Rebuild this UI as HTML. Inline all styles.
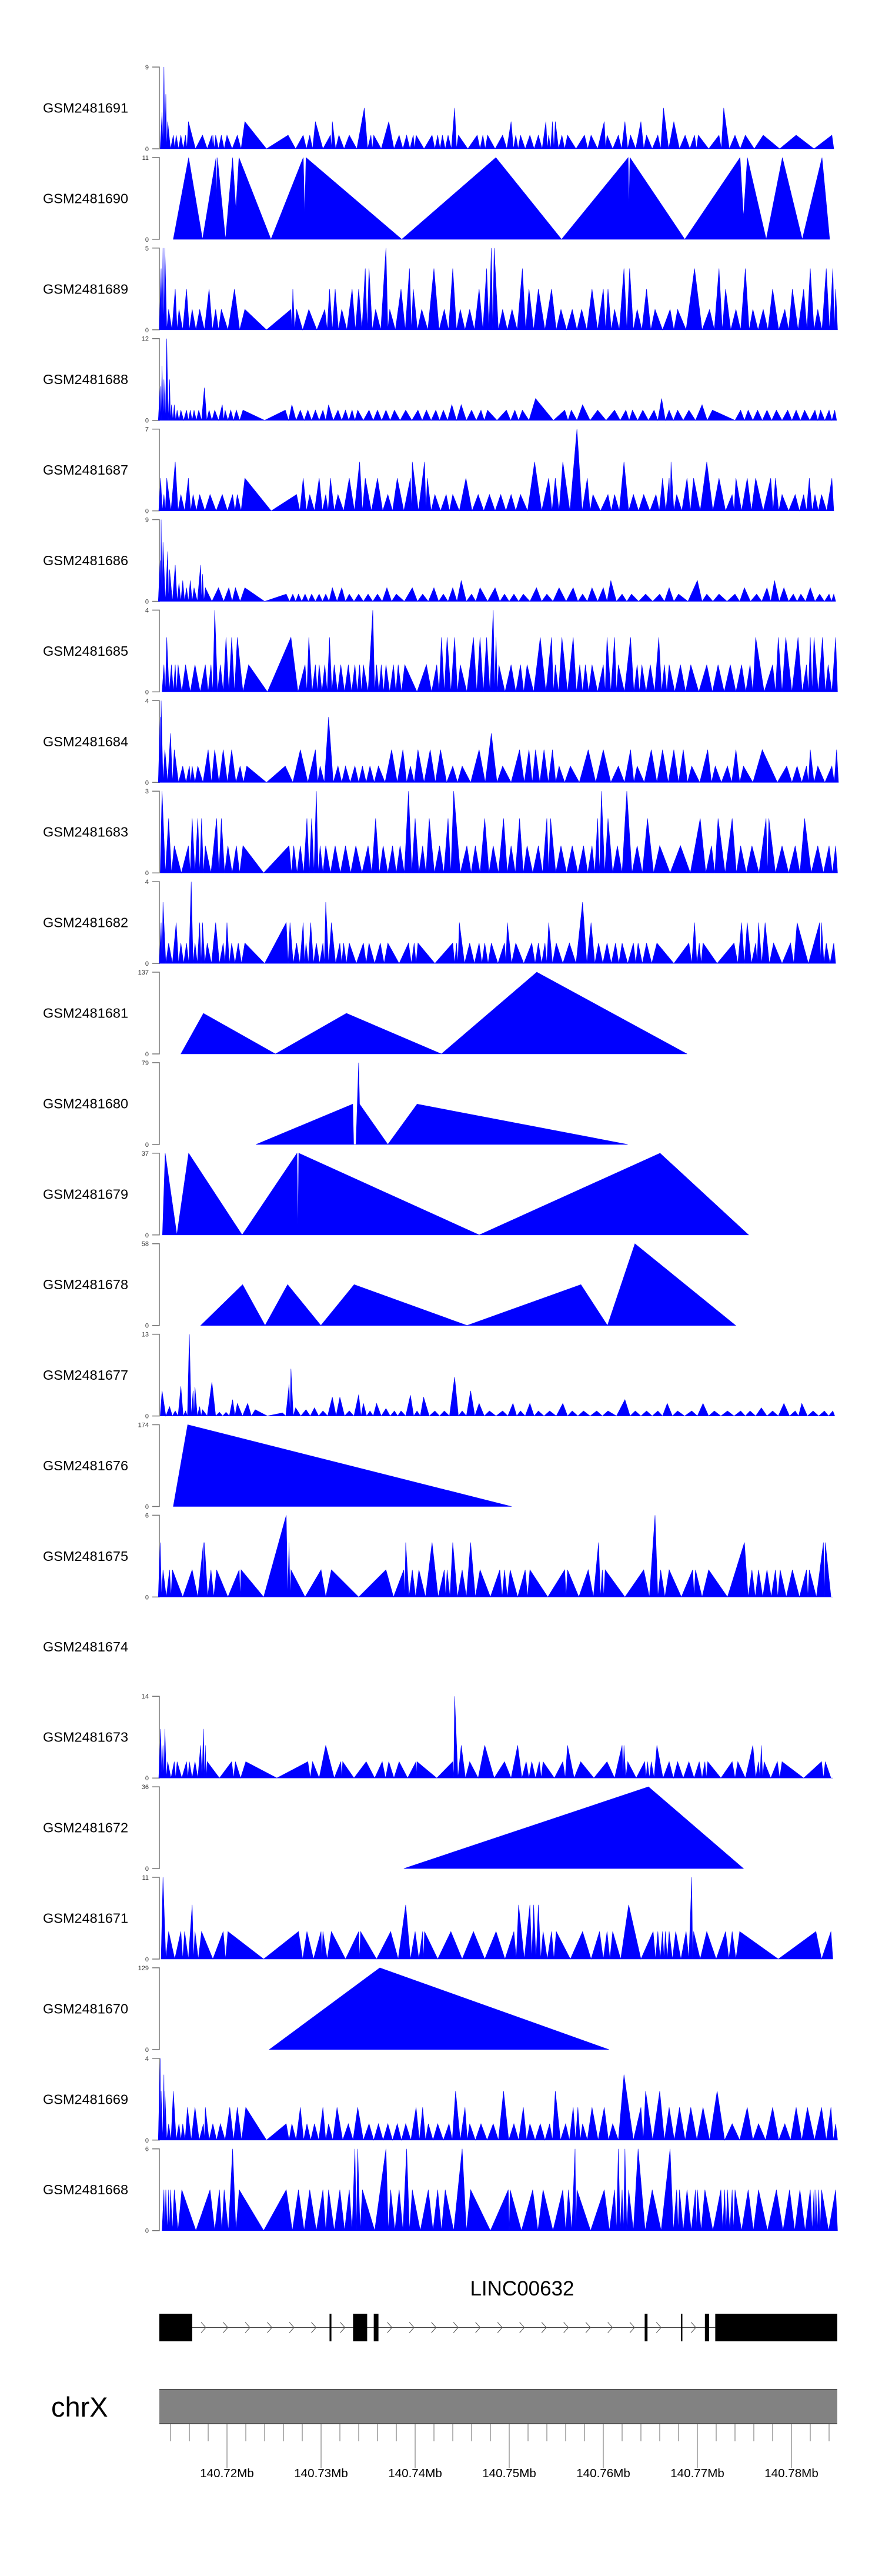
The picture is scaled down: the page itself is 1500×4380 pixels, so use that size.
<!DOCTYPE html>
<html><head><meta charset="utf-8"><title>Coverage tracks LINC00632</title>
<style>
html,body{margin:0;padding:0;background:#fff;}
svg{display:block;font-family:"Liberation Sans",Arial,sans-serif;}
</style></head>
<body>
<svg id="chart" width="1500" height="4380" viewBox="0 0 1500 4380" xmlns="http://www.w3.org/2000/svg">
<g id="tracks"></g>
<g id="gene"></g>
<g id="axis"></g>
</svg>
<script>
// ---- data (positions in kb from 140.70 Mb) ----
const trackNames=["GSM2481691","GSM2481690","GSM2481689","GSM2481688","GSM2481687","GSM2481686","GSM2481685","GSM2481684","GSM2481683","GSM2481682","GSM2481681","GSM2481680","GSM2481679","GSM2481678","GSM2481677","GSM2481676","GSM2481675","GSM2481674","GSM2481673","GSM2481672","GSM2481671","GSM2481670","GSM2481669","GSM2481668"];
const trackMax=[9,11,5,12,7,9,4,4,3,4,137,79,37,58,13,174,6,null,14,36,11,129,4,6];
const trackMode=["peaks","path","peaks","peaks","peaks","peaks","peaks","peaks","peaks","peaks","path","path","path","path","peaks","path","peaks","none","peaks","path","peaks","path","peaks","peaks"];

const x1691=[13.1,13.3,13.5,13.7,14.3,14.6,15.1,15.6,15.9,17.4,18.4,18.5,18.8,19.4,20.0,21.1,21.9,26.5,28.1,28.8,29.4,31.0,31.2,31.9,33.0,34.6,35.3,35.6,37.2,38.3,39.1,39.8,40.1,41.8,42.4,42.9,43.5,44.2,44.6,46.6,47.2,47.7,49.3,50.2,50.7,51.2,52.2,53.1,53.9,54.2,54.6,54.9,55.6,56.2,58.0,58.7,60.1,60.4,61.6,62.3,62.9,64.0,64.6,65.8,66.4,67.5,68.7,69.7,70.1,72.3,72.8,74.0,75.1,77.0,80.5,84.3];
const y1691=[4,9,6,3,1.5,1.5,1.5,1.5,3,1.5,1.5,1.5,1.5,1.5,1.5,1.5,3,1.5,1.5,1.5,3,1.5,3,1.5,1.5,4.5,1.5,1.5,3,1.5,1.5,1.5,1.5,1.5,1.5,1.5,1.5,4.5,1.5,1.5,1.5,1.5,1.5,3,1.5,1.5,1.5,1.5,3,1.5,3,3,1.5,1.5,1.5,1.5,3,1.5,1.5,3,1.5,3,1.5,1.5,4.5,3,1.5,1.5,1.5,1.5,4.5,1.5,1.5,1.5,1.5,1.5];

const x1690=[14.29,15.92,17.40,18.84,18.91,18.98,19.84,20.60,20.94,21.27,24.67,28.11,28.26,28.40,38.58,48.58,55.56,62.64,62.73,62.83,68.66,74.54,74.9,75.31,77.32,79.04,81.15,83.25,84.06];
const y1690=[0,11,0,11,5,11,0,11,4,11,0,11,3,11,0,11,0,11,4,11,0,11,3,11,0,11,0,11,0];

const x1689=[13.0,13.2,13.4,13.8,14.5,14.9,15.7,16.3,17.1,18.1,18.8,19.4,20.8,21.9,24.2,26.8,27.0,27.4,28.7,30.4,30.9,31.5,32.2,33.3,34.0,34.7,35.1,35.8,36.9,37.3,38.5,39.4,39.8,40.7,42.0,43.1,44.0,44.8,45.8,46.8,47.6,48.1,48.4,49.3,50.3,51.4,52.1,53.1,54.5,55.5,56.7,57.7,58.8,60.0,60.5,61.2,62.2,62.8,63.6,64.6,65.5,67.1,67.9,69.7,71.3,72.3,73.0,74.1,75.1,75.9,77.0,78.0,79.3,80.1,81.3,82.0,82.8,83.7,84.4,84.7];
const y1689=[3.75,5,5,1.25,2.5,1.25,2.5,1.25,1.25,2.5,1.25,1.25,2.5,1.25,0,1.25,2.5,1.25,1.25,1.25,2.5,2.5,1.25,2.5,2.5,3.75,3.75,1.25,5,1.25,2.5,3.75,2.5,1.25,3.75,1.25,3.75,1.25,1.25,2.5,3.75,5,5,1.25,1.25,3.75,2.5,2.5,2.5,1.25,1.25,1.25,2.5,2.5,2.5,1.25,3.75,3.75,1.25,2.5,1.25,1.25,1.25,3.75,1.25,3.75,2.5,1.25,3.75,1.25,1.25,2.5,1.25,2.5,2.5,3.75,1.25,3.75,3.75,2.5];

const x1688=[12.9,13.1,13.3,13.6,13.9,14.1,14.4,14.7,15.1,15.7,16.1,16.5,17.0,17.6,18.1,18.7,19.5,19.8,20.4,21.0,21.7,24.0,26.2,26.9,27.8,28.6,29.4,30.2,30.8,31.8,32.6,33.3,33.9,35.1,36.0,36.9,37.8,39.0,40.3,41.2,42.2,43.0,43.9,44.9,46.0,47.0,47.7,49.7,50.6,51.4,52.8,54.7,55.9,56.6,57.8,59.4,60.3,61.2,62.4,63.1,64.2,65.4,66.2,67.0,67.9,69.1,70.5,71.6,74.0,74.6,75.4,76.4,77.4,78.4,79.6,80.5,81.4,82.5,83.1,84.0,84.6];
const y1688=[5,8,6,12,6,2.3,2.3,1.5,1.5,1.5,1.5,1.5,1.5,4.8,1.5,1.5,2.3,1.5,1.5,1.5,1.5,0,1.5,2.3,1.5,1.5,1.5,1.5,2.3,1.5,1.5,1.5,1.5,1.5,1.5,1.5,1.5,1.5,1.5,1.5,1.5,1.5,2.3,2.3,1.5,1.5,1.5,1.5,1.5,1.5,3.2,0,1.5,1.5,2.3,1.5,0,1.5,1.5,1.5,1.5,1.5,3.2,1.5,1.5,1.5,2.3,1.5,0,1.5,1.5,1.5,1.5,1.5,1.5,1.5,1.5,1.5,1.5,1.5,1.5];

const x1687=[12.95,13.3,13.6,14.5,15.1,15.9,16.4,17.1,18.2,19.5,20.6,21.1,21.9,24.7,27.4,28.1,28.8,29.8,30.5,31.0,31.8,33.0,34.1,34.7,36.0,37.1,38.1,39.5,39.7,41.0,41.3,42.1,43.3,44.0,45.4,46.7,47.9,49.1,50.2,51.2,52.7,54.2,54.9,55.7,57.2,58.3,58.9,60.5,61.2,62.2,63.2,64.3,65.6,66.3,67.0,67.2,67.8,68.9,69.6,71.0,72.3,73.7,74.1,75.3,76.2,77.8,78.3,79.0,80.4,81.3,81.9,82.5,83.2,84.3];
const y1687=[2.8,1.4,2.8,4.2,1.4,2.8,1.4,1.4,1.4,1.4,1.4,1.4,2.8,0,1.4,2.8,1.4,2.8,1.4,2.8,1.4,2.8,4.2,2.8,2.8,1.4,2.8,2.8,4.2,4.2,2.8,1.4,1.4,1.4,2.8,1.4,1.4,1.4,1.4,1.4,4.2,2.8,2.8,4.2,7,2.8,1.4,1.4,1.4,4.2,1.4,1.4,1.4,2.8,2.8,4.2,1.4,2.8,2.8,4.2,2.8,1.4,2.8,2.8,2.8,2.8,2.8,1.4,1.4,1.4,2.8,1.4,1.4,2.8];

const x1686=[12.9,13.0,13.2,13.7,13.9,14.5,14.9,15.3,15.7,16.1,16.5,17.2,17.4,17.7,19.1,20.2,20.9,21.9,24.0,26.3,27.0,27.6,28.3,29.0,29.8,30.5,31.2,32.2,33.0,34.0,35.0,36.0,37.0,38.0,39.7,40.8,42.0,43.0,44.0,44.9,46.0,46.9,48.5,49.5,50.5,51.5,52.9,54.0,55.3,56.8,57.8,58.8,60.0,60.8,62.0,63.0,64.5,66.0,67.0,68.0,70.0,71.0,72.3,74.0,75.0,76.3,77.4,78.2,79.2,80.2,81.0,82.0,83.0,84.0,84.5];
const y1686=[4.5,9,6.5,5.5,3.5,4,2,2.3,1.5,2.3,1.5,4,3,1.5,1.5,1.5,1.5,1.5,0,0.8,0.8,0.8,0.8,0.8,0.8,0.8,1.5,1.5,0.8,0.8,0.8,0.8,1.5,0.8,1.5,0.8,1.5,0.8,1.5,2.3,0.8,1.5,1.5,0.8,0.8,0.8,1.5,0.8,1.5,1.5,0.8,1.5,1.5,2.3,0.8,0.8,0.8,0.8,1.5,0.8,2.3,0.8,0.8,0.8,1.5,0.8,1.5,2.3,1.5,0.8,0.8,1.5,0.8,0.8,0.8];

const x1685=[13.3,13.6,14.1,14.5,14.8,15.6,16.6,17.7,18.3,18.7,19.3,19.9,20.5,21.1,22.3,24.3,26.8,28.3,28.7,29.4,29.8,30.4,30.9,31.4,32.1,32.9,33.6,34.1,34.5,35.5,35.9,36.4,36.9,37.7,38.2,38.9,40.2,41.2,42.3,42.8,43.4,44.2,44.8,46.2,46.9,47.6,48.3,48.6,48.9,50.2,51.2,51.9,53.3,54.5,54.9,55.6,56.8,57.5,58.1,58.8,60.0,60.4,61.2,61.6,62.9,63.6,64.1,65.0,65.9,66.5,67.0,68.2,69.3,71.0,72.2,73.5,74.7,75.6,76.2,78.0,78.6,79.4,80.7,81.6,82.0,82.4,83.3,83.9,84.7];
const y1685=[1.33,2.67,1.33,1.33,1.33,1.33,1.33,1.33,1.33,4,1.33,2.67,2.67,2.67,1.33,0,2.67,1.33,2.67,1.33,1.33,1.33,2.67,1.33,1.33,1.33,1.33,1.33,1.33,4,1.33,1.33,1.33,1.33,1.33,1.33,0,1.33,1.33,2.67,2.67,2.67,1.33,2.67,2.67,2.67,4,2.67,1.33,1.33,1.33,1.33,2.67,2.67,1.33,2.67,2.67,1.33,1.33,1.33,1.33,2.67,2.67,1.33,2.67,1.33,1.33,1.33,2.67,1.33,1.33,1.33,1.33,1.33,1.33,1.33,1.33,1.33,2.67,1.33,2.67,2.67,2.67,1.33,2.67,2.67,2.67,1.33,2.67];

const x1684=[12.9,13.0,13.4,14.0,14.4,15.3,16.0,16.3,16.9,18.0,18.7,19.6,20.5,21.4,22.1,24.2,26.2,27.8,29.4,29.9,30.8,31.8,32.6,33.6,34.4,35.2,36.1,37.5,38.7,39.5,40.3,41.6,42.7,44.0,45.0,46.8,48.1,49.3,51.1,52.1,52.8,53.7,54.6,55.3,56.5,58.4,60.0,61.6,62.9,63.6,65.1,66.3,67.5,68.5,69.4,71.1,71.9,73.2,74.1,74.9,76.9,78.5,79.5,80.6,81.6,82.0,82.8,84.3,84.8];
const y1684=[3.2,4,1.6,2.4,1.6,0.8,0.8,0.8,0.8,1.6,1.6,1.6,1.6,0.8,0.8,0,0.8,1.6,1.6,0.8,3.2,0.8,0.8,0.8,0.8,0.8,0.8,1.6,1.6,0.8,1.6,1.6,1.6,0.8,0.8,1.6,2.4,0.8,1.6,1.6,1.6,1.6,1.6,0.8,0.8,1.6,1.6,0.8,1.6,0.8,1.6,1.6,1.6,1.6,0.8,1.6,0.8,0.8,1.6,0.8,1.6,0,0.8,0.8,0.8,1.6,0.8,0.8,1.6];

const x1683=[13.1,13.8,14.4,15.9,16.3,16.9,17.3,17.7,18.9,19.4,20.1,21.0,21.7,23.9,26.6,27.1,27.8,28.5,29.0,29.5,29.9,30.5,31.5,32.6,33.7,35.0,35.8,36.6,37.6,38.4,39.3,40.0,40.8,41.5,42.6,43.5,44.1,45.5,46.4,47.4,48.3,49.4,50.2,51.1,51.9,53.1,54.0,54.4,55.5,56.7,57.9,58.8,59.4,59.8,60.5,61.5,62.5,63.6,64.7,66.0,68.2,70.3,71.5,72.2,73.7,74.6,75.8,77.3,77.6,79.0,80.4,81.4,82.8,84.0,84.7];
const y1683=[3,2,1,1,2,2,2,1,2,2,1,1,1,0,1,1,1,2,2,3,1,1,1,1,1,1,2,1,1,1,3,2,1,2,1,2,3,1,1,2,1,2,1,2,1,1,2,2,1,1,1,1,2,3,2,1,3,1,2,1,1,2,1,2,2,1,1,2,2,1,1,2,1,1,1];

const x1682=[13.0,13.2,13.8,14.6,15.1,15.7,16.2,16.6,17.1,17.4,17.9,18.8,19.6,20.0,20.5,21.2,21.9,24.0,26.3,26.7,27.4,28.1,28.4,28.9,29.5,30.2,30.5,31.1,32.0,32.4,33.0,34.5,35.1,36.3,37.1,38.3,39.3,39.9,40.3,42.1,44.0,44.4,44.7,45.8,46.8,47.4,48.1,49.5,49.8,50.7,52.4,53.1,53.8,54.2,55.0,56.4,57.8,58.7,59.5,60.4,61.3,62.0,63.2,63.7,64.6,65.7,67.5,69.1,69.7,70.2,70.6,72.1,73.9,74.7,75.3,76.2,76.5,77.2,78.1,79.9,80.6,81.8,83.0,83.2,83.7,84.5];
const y1682=[2,3,1,2,1,1,4,1,2,2,1,2,1,2,1,1,1,0,2,2,1,2,1,2,1,1,3,2,1,1,1,1,1,1,1,0,1,1,1,0,1,1,2,1,1,1,1,1,2,1,1,1,1,2,1,1,3,2,1,1,1,1,1,1,1,1,0,1,2,1,1,0,1,2,2,1,2,2,1,1,2,0,2,2,1,1];

const x1681=[15.10,17.50,25.15,32.70,42.79,52.93,68.90];
const y1681=[0,68,0,68,0,137,0];

const x1680=[23.09,33.37,33.47,33.71,33.99,34.09,37.10,40.21,62.59];
const y1680=[0,39,0,0,79,39,0,39,0];

const x1679=[13.14,13.43,14.67,15.92,21.61,27.44,27.54,27.63,46.81,66.03,75.45];
const y1679=[0,37,0,37,0,37,0,37,0,37,0];

const x1678=[17.21,21.66,24.05,26.44,29.98,33.52,45.52,57.62,60.44,63.36,74.07];
const y1678=[0,29,0,29,0,29,0,29,0,58,0];

const x1677=[13.1,13.9,14.5,15.1,15.6,16.0,16.4,16.6,17.1,17.4,18.4,19.2,19.9,20.6,21.1,22.2,23.0,24.3,25.9,26.6,26.8,27.3,28.4,29.3,30.2,31.2,32.0,33.0,34.0,34.5,35.2,35.9,36.9,37.8,38.5,39.5,40.2,40.9,42.1,43.1,44.2,45.0,45.9,46.8,47.9,49.3,50.4,51.2,52.2,53.1,54.3,55.7,56.7,57.9,59.3,60.5,62.3,63.4,64.6,65.8,66.8,67.9,69.4,70.6,71.8,73.2,74.6,75.6,76.8,78.0,79.2,80.4,81.1,82.3,83.5,84.4];
const y1677=[4,1.5,0.8,4.7,0.8,13,4,4.6,1.5,1,5.4,0.6,0.6,2.6,2,2,1,0,0.5,5,7.5,1.3,1,1.3,0.8,3,3,0.8,3.4,2,0.8,2,1.2,0.8,0.8,3.3,0.8,3,0.8,0.8,6.2,0.8,4,2,0.8,0.8,2,0.8,2,0.8,0.8,2,0.8,0.8,0.8,0.8,2.6,0.8,0.8,0.8,2,0.8,0.8,2,0.8,0.8,0.8,0.8,1.3,0.8,2,0.8,2,0.8,0.8,0.8];

const x1676=[14.29,15.82,50.25];
const y1676=[0,174,0];

const x1675=[12.9,13.2,13.9,14.2,15.3,16.3,17.5,17.6,18.3,18.9,20.1,21.3,21.5,23.9,26.3,26.6,26.8,28.3,30.0,30.5,31.1,34.0,36.9,37.7,38.8,39.0,39.7,40.4,41.8,43.1,43.4,44.0,45.0,45.9,46.9,48.0,49.0,49.5,50.1,51.7,52.2,54.1,55.9,56.2,57.4,58.4,59.5,59.9,60.2,62.3,64.3,65.5,66.1,67.0,68.3,69.5,69.8,71.2,73.2,75.0,75.8,76.5,77.4,78.3,78.8,80.1,81.6,81.9,83.4,83.6,84.2];
const y1675=[4,2,2,2,0,2,4,4,2,2,0,2,2,0,6,4,2,0,2,0,2,0,2,0,2,4,2,2,4,2,2,4,2,4,2,0,2,2,2,2,2,0,2,2,0,2,4,2,2,0,2,6,2,2,0,2,2,2,0,4,2,2,2,2,2,2,2,2,4,4,0];

const x1673=[12.95,13.2,13.4,13.7,14.4,14.7,15.7,16.0,16.6,17.2,17.5,17.7,17.9,19.2,20.5,20.9,22.0,25.3,28.6,29.1,29.8,30.5,31.4,32.1,32.3,33.5,34.8,35.7,36.5,37.2,38.3,39.2,40.1,40.2,42.3,44.0,44.2,44.9,45.8,46.7,47.4,48.4,49.5,50.9,51.8,52.4,53.2,53.6,54.8,55.7,56.2,57.6,59.0,60.4,62.0,62.2,62.6,64.4,64.7,65.1,65.7,67.0,67.9,69.1,70.2,70.8,71.1,72.5,73.7,74.3,75.9,76.5,76.8,77.1,78.5,79.0,81.3,83.2,83.6,84.2];
const y1673=[8.4,5.6,8.4,2.8,2.8,2.8,2.8,2.8,2.8,5.6,8.4,5.6,2.8,0,2.8,2.8,2.8,0,2.8,2.8,0,5.6,0,2.8,2.8,0,2.8,0,2.8,2.8,2.8,0,2.8,2.8,0,2.8,14,5.6,2.8,0,5.6,0,2.8,5.6,2.8,2.8,2.8,2.8,0,2.8,5.6,2.8,0,2.8,5.6,5.6,2.8,2.8,2.8,2.8,5.6,2.8,2.8,2.8,2.8,2.8,2.8,0,2.8,2.8,5.6,2.8,5.6,2.8,2.8,2.8,0,2.8,2.8,0];

const x1672=[38.8,64.8,74.9];
const y1672=[0,36,0];

const x1671=[13.2,13.8,15.1,15.5,16.3,16.6,17.3,18.5,19.6,20.1,23.9,27.6,28.5,29.2,30.0,30.2,31.1,32.6,34.0,34.2,35.9,37.4,39.0,40.0,40.8,41.0,43.8,46.2,48.6,50.5,51.0,52.2,52.6,53.1,53.6,54.5,55.0,56.5,57.8,59.6,60.4,61.0,62.7,64.0,65.3,65.8,66.3,66.6,67.0,67.7,68.8,69.4,69.6,71.0,73.0,73.7,74.5,78.6,82.6,83.2,84.2];
const y1671=[11,3.7,3.7,3.7,7.3,3.7,3.7,0,3.7,3.7,0,3.7,3.7,0,3.7,3.7,3.7,0,3.7,3.7,0,3.7,7.3,3.7,3.7,3.7,3.7,3.7,3.7,3.7,7.3,7.3,7.3,7.3,3.7,3.7,3.7,0,3.7,3.7,3.7,3.7,7.3,0,3.7,3.7,3.7,3.7,3.7,3.7,3.7,11,3.7,3.7,3.7,3.7,3.7,0,3.7,0,3.7];

const x1670=[24.5,36.25,60.6];
const y1670=[0,129,0];

const x1669=[12.9,13.0,13.3,13.4,13.8,14.3,14.9,15.3,15.8,16.6,17.5,17.7,18.5,19.3,20.3,21.1,22.0,24.2,26.3,26.9,27.8,28.5,29.3,30.2,30.8,31.7,32.9,33.9,35.1,36.1,37.1,38.1,39.0,40.1,40.8,41.4,42.4,43.6,44.3,45.3,45.8,47.0,48.3,49.4,50.5,51.5,52.2,53.3,54.3,54.9,56.0,56.8,57.3,57.8,58.8,60.1,61.0,62.2,63.2,64.0,64.5,66.0,67.0,68.1,69.3,70.6,71.3,72.1,73.7,75.3,76.5,78.0,79.3,80.5,81.7,83.2,84.2,84.7];
const y1669=[4,2.4,3.2,2.4,0.8,2.4,0.8,0.8,1.6,1.6,0.8,1.6,0.8,0.8,1.6,1.6,1.6,0,0.8,0.8,1.6,0.8,0.8,1.6,0.8,1.6,0.8,1.6,0.8,0.8,0.8,0.8,0.8,1.6,1.6,0.8,0.8,0.8,2.4,1.6,0.8,0.8,0.8,2.4,0.8,1.6,0.8,0.8,0.8,2.4,0.8,1.6,1.6,0.8,1.6,1.6,0.8,3.2,0,1.6,2.4,2.4,1.6,1.6,1.6,1.6,0,2.4,0.8,1.6,0.8,1.6,0.8,1.6,1.6,1.6,1.6,0.8];

const x1668=[13.3,13.5,13.8,14.0,14.4,15.2,16.7,18.2,19.2,19.7,20.6,21.3,23.9,26.3,27.6,28.8,30.2,30.8,32.0,33.0,33.6,33.9,34.4,35.7,36.9,37.4,38.3,39.1,39.7,41.4,42.4,43.2,45.0,45.9,48.0,49.9,50.1,51.3,52.5,53.6,55.7,56.3,57.0,57.2,60.1,61.2,61.6,62.0,62.3,62.7,63.7,65.2,67.1,67.8,68.1,68.9,69.8,70.0,70.8,72.5,72.9,73.2,73.7,74.0,75.4,76.5,78.4,79.8,80.9,82.0,82.4,82.6,82.9,83.2,84.7];
const y1668=[3,3,3,3,3,3,0,3,3,3,6,3,0,3,3,3,3,3,3,3,6,6,3,0,6,3,3,6,3,3,3,3,6,3,0,3,3,0,3,3,3,3,6,3,3,3,6,3,6,3,6,3,6,3,3,3,3,3,3,3,3,3,3,3,3,3,3,3,3,3,3,3,3,3,3];

const exonStart=[12.81,30.9,33.4,35.6,64.4,68.25,70.8,71.9];
const exonEnd=[16.31,31.1,34.9,36.1,64.7,68.4,71.25,84.875];
const majorTicks=[20,30,40,50,60,70,80];
const majorLabels=["140.72Mb","140.73Mb","140.74Mb","140.75Mb","140.76Mb","140.77Mb","140.78Mb"];
const minorStart=14, minorEnd=84, minorStep=2;

const seriesX=[x1691,x1690,x1689,x1688,x1687,x1686,x1685,x1684,x1683,x1682,x1681,x1680,x1679,x1678,x1677,x1676,x1675,[],x1673,x1672,x1671,x1670,x1669,x1668];
const seriesY=[y1691,y1690,y1689,y1688,y1687,y1686,y1685,y1684,y1683,y1682,y1681,y1680,y1679,y1678,y1677,y1676,y1675,[],y1673,y1672,y1671,y1670,y1669,y1668];

// ---- layout / scales ----
const NS="http://www.w3.org/2000/svg";
const PX0=271, PX1=1424, KB0=12.81, KB1=84.875;
const TOP0=114, PITCH=153.9, TH=139;
function xs(kb){return PX0+(kb-KB0)*(PX1-PX0)/(KB1-KB0);}
function mk(tag,attrs,parent){const e=document.createElementNS(NS,tag);for(const k in attrs)e.setAttribute(k,attrs[k]);parent.appendChild(e);return e;}

const tracksG=document.getElementById('tracks');
trackNames.forEach((name,i)=>{
  const top=TOP0+i*PITCH, bot=top+TH, mid=top+TH/2;
  const g=mk('g',{},tracksG);
  
  
  const lab=mk('text',{x:73,y:mid+8,'font-size':'23.5px',fill:'#000'},g);
  
  
  lab.textContent=name;
  const max=trackMax[i];
  if(max===null||trackMode[i]==='none')return;
  const ys=v=>bot-v/max*TH;
  const ax=mk('path',{d:`M259,${top}H271V${bot}H259`,fill:'none',stroke:'#777','stroke-width':1.5},g);
  
  
  const t1=mk('text',{x:253,y:top+4,'font-size':'11px','text-anchor':'end',fill:'#333'},g);
  
  
  t1.textContent=max;
  const t0=mk('text',{x:253,y:bot+4,'font-size':'11px','text-anchor':'end',fill:'#333'},g);
  
  
  t0.textContent='0';
  const X=seriesX[i], Y=seriesY[i];
  const pts=[];
  if(trackMode[i]==='peaks'){
    pts.push([X[0]-0.2,0]);
    for(let k=0;k<X.length;k++){
      if(k>0&&Y[k]>0&&Y[k-1]>0)pts.push([(X[k]+X[k-1])/2,0]);
      pts.push([X[k],Y[k]]);
    }
    pts.push([X[X.length-1]+0.2,0]);
  }else{
    for(let k=0;k<X.length;k++)pts.push([X[k],Y[k]]);
  }
  const d='M'+xs(pts[0][0]).toFixed(1)+','+bot+pts.map(p=>'L'+xs(p[0]).toFixed(1)+','+ys(p[1]).toFixed(1)).join('')+'L'+xs(pts[pts.length-1][0]).toFixed(1)+','+bot+'Z';
  const area=mk('path',{d:d,fill:'#0000ff',stroke:'#0000ff','stroke-width':0.6,'stroke-linejoin':'miter'},g);
  
  
});

// ---- gene model ----
const geneG=document.getElementById('gene');
const GT=3934, GB=3981, GM=(GT+GB)/2;
const gl=mk('text',{x:888,y:3903,'font-size':'35px','text-anchor':'middle',fill:'#000'},geneG);


gl.textContent='LINC00632';
const il=mk('line',{x1:xs(exonEnd[0]),x2:xs(exonStart[exonStart.length-1]),y1:GM,y2:GM,stroke:'#444','stroke-width':1.2},geneG);


for(let k=0;k<exonStart.length-1;k++){
  const a=xs(exonEnd[k]), b=xs(exonStart[k+1]);
  for(let cx=a+19;cx<b-8;cx+=37.5){
    const ch=mk('path',{d:`M${cx-4},${GM-9}L${cx+4},${GM}L${cx-4},${GM+9}`,fill:'none',stroke:'#555','stroke-width':1},geneG);
    
    
  }
}
exonStart.forEach((s,k)=>{
  const a=xs(s), b=xs(exonEnd[k]);
  const r=mk('rect',{x:a,y:GT,width:Math.max(b-a,2.5),height:GB-GT,fill:'#000'},geneG);
  
  
});

// ---- genome axis ----
const axG=document.getElementById('axis');
const cl=mk('text',{x:87,y:4109,'font-size':'47px',fill:'#000'},axG);


cl.textContent='chrX';
const bar=mk('rect',{x:PX0,y:4063,width:PX1-PX0,height:58,fill:'#828282'},axG);


mk('line',{x1:PX0,x2:PX1,y1:4063,y2:4063,stroke:'#555','stroke-width':2},axG);
mk('line',{x1:PX0,x2:PX1,y1:4121,y2:4121,stroke:'#555','stroke-width':2},axG);
for(let kb=minorStart;kb<=minorEnd+0.001;kb+=minorStep){
  const isMajor=majorTicks.some(m=>Math.abs(m-kb)<0.01);
  const t=mk('line',{x1:xs(kb),x2:xs(kb),y1:4122,y2:isMajor?4196:4151,stroke:'#666','stroke-width':1},axG);
  
  
}
majorTicks.forEach((m,k)=>{
  const t=mk('text',{x:xs(m),y:4212,'font-size':'20.6px','text-anchor':'middle',fill:'#000'},axG);
  
  
  t.textContent=majorLabels[k];
});
</script>
</body></html>
